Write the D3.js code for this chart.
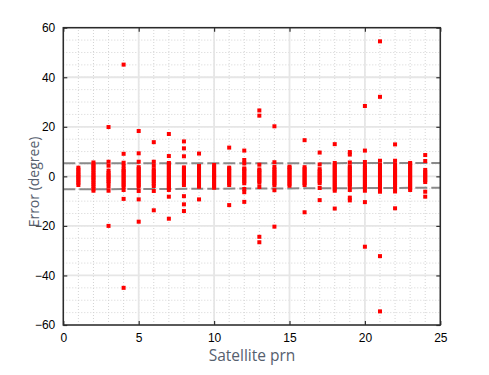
<!DOCTYPE html>
<html>
<head>
<meta charset="utf-8">
<script src="https://cdn.jsdelivr.net/npm/d3@7"></script>
<style>
  body { margin: 0; background: #fff; }
  svg { display: block; }
</style>
</head>
<body>
<div id="chart"></div>
<script>
// Satellite numbers on the x axis
const prn = [1, 2, 3, 4, 5, 6, 7, 8, 9, 10, 11, 12, 13, 14, 15, 16, 17, 18, 19, 20, 21, 22, 23, 24];

// Error values (degree), same order as prn
const errors = [
  [-3.5, -2.6, -1.8, -1, -0.3, 0.4, 1.1, 1.9, 2.7, 3.5],
  [-5.8, -5, -4.1, -3.2, -2.4, -1.5, -0.7, 0, 0.8, 1.6, 2.5, 3.3, 4.1, 4.9, 5.6],
  [-20, -5.8, -4.2, -2.8, -2, -1.1, -0.3, 0.5, 1.3, 2.3, 4.3, 5.9, 19.9],
  [-45, -9.1, -5.5, -4.2, -3.4, -2.6, -1.8, -1, -0.2, 0.6, 1.4, 2.2, 2.8, 4.2, 5.5, 9.1, 45.1],
  [-18.3, -9.3, -5.9, -4.2, -3.4, -2.6, -1.8, -1, -0.2, 0.6, 1.4, 2.2, 3, 3.7, 5.9, 9.3, 18.3],
  [-13.7, -5.9, -3.9, -2.9, -2, -1.2, -0.4, 0.4, 1.2, 2, 2.8, 4.3, 5.9, 13.8],
  [-17.1, -8.2, -5.5, -4.7, -3.9, -3.1, -2.3, -1.5, -0.7, 0, 0.8, 1.6, 2.4, 3.2, 4, 4.8, 5.4, 8.2, 17.1],
  [-14, -11.3, -8, -3.5, -2.7, -1.9, -1.1, -0.3, 0.5, 1.3, 2.1, 2.9, 3.6, 8.1, 11.3, 14.1],
  [-9.3, -4.2, -3.4, -2.6, -1.8, -1, -0.2, 0.6, 1.4, 2.2, 3, 3.7, 4.2, 9.2],
  [-4.6, -3.8, -3, -2.2, -1.4, -0.6, 0, 0.6, 1.4, 2.2, 3, 3.8, 4.6],
  [-11.6, -3.5, -2.7, -1.9, -1.1, -0.3, 0.5, 1.3, 2.1, 2.9, 3.5, 11.6],
  [-10.3, -6.4, -5.1, -2.8, -2, -1.2, -0.4, 0.4, 1.2, 2, 2.8, 3.2, 5.2, 6.6, 10.4],
  [-26.6, -24.4, -4.3, -2.6, -1.8, -1, -0.2, 0.6, 1.4, 2.2, 2.8, 4.7, 24.5, 26.6],
  [-20.3, -5.6, -3.6, -2.8, -2, -1.2, -0.4, 0.4, 1.2, 2, 2.8, 3.8, 5.7, 20.2],
  [-3.8, -3, -2.2, -1.4, -0.6, 0.2, 1, 1.8, 2.6, 3.4, 3.9],
  [-14.5, -3.5, -2.7, -1.9, -1.1, -0.3, 0.5, 1.3, 2.1, 2.9, 3.7, 14.6],
  [-9.6, -4.7, -2.8, -2, -1.2, -0.4, 0.4, 1.2, 2, 2.9, 4.8, 9.6],
  [-13, -5.8, -5, -4.2, -3.4, -2.6, -1.8, -1, -0.2, 0.6, 1.4, 2.2, 3, 3.8, 4.6, 5.4, 13],
  [-9.7, -8.6, -5.5, -4, -3.2, -2.4, -1.6, -0.8, 0, 0.8, 1.6, 2.4, 3.2, 4, 5.6, 8.8, 9.8],
  [-28.4, -10.4, -5.8, -4.5, -3.7, -2.9, -2.1, -1.3, -0.5, 0.3, 1.1, 1.9, 2.7, 3.5, 4.5, 5.8, 10.4, 28.4],
  [-54.5, -32.2, -6.2, -4.8, -3.9, -3.1, -2.3, -1.5, -0.7, 0.1, 0.9, 1.7, 2.5, 3.3, 4, 4.6, 6.3, 32.1, 54.5],
  [-12.9, -6.1, -4.8, -3.5, -2.7, -1.9, -1.1, -0.3, 0.5, 1.3, 2.1, 2.9, 3.5, 4.8, 6.3, 12.9],
  [-5.5, -4.7, -3.9, -3.1, -2.3, -1.5, -0.7, 0.1, 0.9, 1.7, 2.5, 3.3, 4.1, 4.9, 5.4],
  [-8.2, -6.2, -2.3, -1.5, -0.7, 0.1, 0.9, 1.7, 2.6, 6.2, 8.6],
];

// Dashed threshold lines, [x, y] end points
const upperLimit = [[0, 5.25], [25, 5.37]];
const lowerLimit = [[0, -5.25], [25, -4.6]];

// Tick labels
const xTicks = [0, 5, 10, 15, 20, 25];
const yTicks = [-60, -40, -20, 0, 20, 40, 60];
const xMinor = d3.range(0, 26, 1);
const yMinor = d3.range(-60, 61, 5);

const width = 489;
const height = 375;
const margin = { top: 27.7, right: 48.7, bottom: 50, left: 63.3 };

const svg = d3.select('#chart').append('svg')
  .attr('width', width)
  .attr('height', height);

const x = d3.scaleLinear().domain([0, 25]).range([margin.left, width - margin.right]);
const y = d3.scaleLinear().domain([-60, 60]).range([height - margin.bottom, margin.top]);

const [x0, x1] = x.range();
const [y0, y1] = y.range();

// Minor dotted grid
svg.append('g').selectAll('line.vminor')
  .data(xMinor)
  .enter().append('line')
  .attr('x1', d => x(d)).attr('x2', d => x(d))
  .attr('y1', y0).attr('y2', y1)
  .attr('stroke', '#d4d4d4')
  .attr('stroke-dasharray', '1,2');

svg.append('g').selectAll('line.hminor')
  .data(yMinor)
  .enter().append('line')
  .attr('x1', x0).attr('x2', x1)
  .attr('y1', d => y(d)).attr('y2', d => y(d))
  .attr('stroke', '#d4d4d4')
  .attr('stroke-dasharray', '1,2');

// Major grid
svg.append('g').selectAll('line')
  .data(xTicks)
  .enter().append('line')
  .attr('x1', d => x(d)).attr('x2', d => x(d))
  .attr('y1', y0).attr('y2', y1)
  .attr('stroke', '#e6e6e6')
  .attr('stroke-width', 1.8);

svg.append('g').selectAll('line')
  .data(yTicks)
  .enter().append('line')
  .attr('x1', x0).attr('x2', x1)
  .attr('y1', d => y(d)).attr('y2', d => y(d))
  .attr('stroke', '#e6e6e6')
  .attr('stroke-width', 1.8);

// Threshold lines
const line = d3.line().x(d => x(d[0])).y(d => y(d[1]));
[upperLimit, lowerLimit].forEach((limit) => {
  svg.append('path')
    .datum(limit)
    .attr('d', line)
    .attr('fill', 'none')
    .attr('stroke', '#8a8a8a')
    .attr('stroke-width', 2)
    .attr('stroke-dasharray', '12,4');
});

// Points
const points = [];
prn.forEach((p, i) => {
  errors[i].forEach(e => points.push([p, e]));
});

svg.append('g').selectAll('rect')
  .data(points)
  .enter().append('rect')
  .attr('x', d => x(d[0]) - 2)
  .attr('y', d => y(d[1]) - 2)
  .attr('width', 4)
  .attr('height', 4)
  .attr('fill', '#ff0000');

// Axes, ticks on all four sides pointing inwards
const tickFont = (g) => g.selectAll('text')
  .attr('font-family', 'Liberation Sans, Arial, sans-serif')
  .attr('font-size', 12)
  .attr('fill', '#000');

const cleanAxis = (g) => {
  g.select('.domain').remove();
  g.selectAll('line').attr('stroke', '#333').attr('stroke-width', 1.2);
};

svg.append('g')
  .attr('transform', `translate(0,${y0})`)
  .call(d3.axisBottom(x).tickValues(xTicks).tickSizeInner(-4).tickSizeOuter(0).tickPadding(8))
  .call(cleanAxis)
  .call(tickFont);

svg.append('g')
  .attr('transform', `translate(${x0},0)`)
  .call(d3.axisLeft(y).tickValues(yTicks).tickSizeInner(-4).tickSizeOuter(0).tickPadding(8))
  .call(cleanAxis)
  .call(tickFont);

svg.append('g')
  .attr('transform', `translate(0,${y1})`)
  .call(d3.axisTop(x).tickValues(xTicks).tickSizeInner(-4).tickSizeOuter(0).tickFormat(''))
  .call(cleanAxis);

svg.append('g')
  .attr('transform', `translate(${x1},0)`)
  .call(d3.axisRight(y).tickValues(yTicks).tickSizeInner(-4).tickSizeOuter(0).tickFormat(''))
  .call(cleanAxis);

// Frame
svg.append('rect')
  .attr('x', x0).attr('y', y1)
  .attr('width', x1 - x0).attr('height', y0 - y1)
  .attr('fill', 'none')
  .attr('stroke', '#2b2b2b')
  .attr('stroke-width', 1.5);

// Axis titles
svg.append('text')
  .attr('x', 252)
  .attr('y', 361)
  .attr('text-anchor', 'middle')
  .attr('font-family', 'Open Sans, sans-serif')
  .attr('font-size', 15.5)
  .attr('fill', '#56606e')
  .text('Satellite prn');

svg.append('text')
  .attr('transform', 'translate(39,182) rotate(-90)')
  .attr('text-anchor', 'middle')
  .attr('font-family', 'Open Sans, sans-serif')
  .attr('font-size', 14)
  .attr('fill', '#56606e')
  .text('Error (degree)');
</script>
</body>
</html>
